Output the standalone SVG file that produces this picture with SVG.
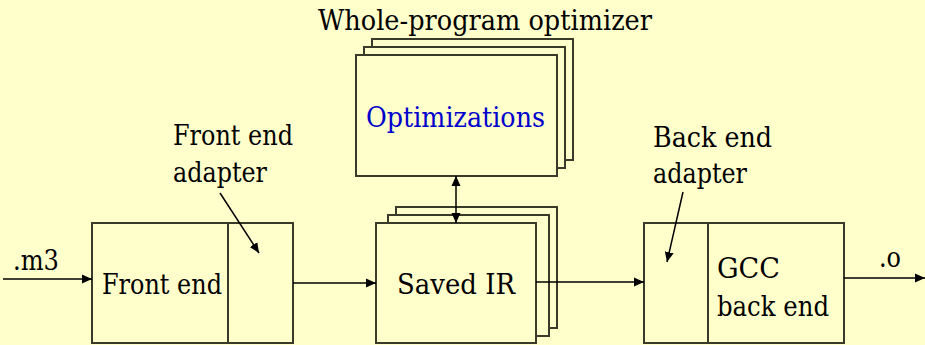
<svg xmlns="http://www.w3.org/2000/svg" width="925" height="345" viewBox="0 0 925 345">
<style>
.bx{fill:#FFFFCC;stroke:#3a3a2a;stroke-width:2}
.ln{fill:none;stroke:#000;stroke-width:1.5}
.t{font-family:'DejaVu Serif', serif;font-size:27px;fill:#000}
.blue{fill:#0000CC}
</style>
<defs>
<marker id="ah" viewBox="0 0 10 10" refX="10" refY="5" markerWidth="10" markerHeight="10" markerUnits="userSpaceOnUse" orient="auto-start-reverse">
<path d="M0,0.5 L10,5 L0,9.5 Z" fill="#000"/>
</marker>
</defs>
<rect width="925" height="345" fill="#FFFFCC"/>
<text class="t" x="318" y="30" textLength="334" lengthAdjust="spacingAndGlyphs">Whole-program optimizer</text>
<g id="optimizer">
<rect class="bx" x="372" y="39" width="201" height="121"/>
<rect class="bx" x="364" y="47" width="201" height="121"/>
<rect class="bx" x="356" y="55" width="201" height="121"/>
<text class="t blue" x="366" y="127" textLength="179" lengthAdjust="spacingAndGlyphs">Optimizations</text>
</g>
<g id="savedir">
<rect class="bx" x="396" y="207" width="161" height="121"/>
<rect class="bx" x="388" y="215" width="161" height="121"/>
<rect class="bx" x="376" y="223" width="160" height="120"/>
<text class="t" x="397" y="294" textLength="118" lengthAdjust="spacingAndGlyphs">Saved IR</text>
</g>
<g id="frontend">
<rect class="bx" x="92" y="223" width="201" height="120"/>
<line x1="228" y1="223" x2="228" y2="343" stroke="#3a3a2a" stroke-width="2"/>
<text class="t" x="102" y="294" textLength="120" lengthAdjust="spacingAndGlyphs">Front end</text>
</g>
<g id="backend">
<rect class="bx" x="644" y="223" width="200" height="120"/>
<line x1="708" y1="223" x2="708" y2="343" stroke="#3a3a2a" stroke-width="2"/>
<text class="t" x="717" y="278" textLength="63" lengthAdjust="spacingAndGlyphs">GCC</text>
<text class="t" x="717" y="316" textLength="112" lengthAdjust="spacingAndGlyphs">back end</text>
</g>
<g id="labels">
<text class="t" x="173" y="145" textLength="120" lengthAdjust="spacingAndGlyphs">Front end</text>
<text class="t" x="173" y="182" textLength="94" lengthAdjust="spacingAndGlyphs">adapter</text>
<text class="t" x="653" y="147" textLength="119" lengthAdjust="spacingAndGlyphs">Back end</text>
<text class="t" x="653" y="183" textLength="94" lengthAdjust="spacingAndGlyphs">adapter</text>
<text class="t" x="13" y="270" textLength="46" lengthAdjust="spacingAndGlyphs">.m3</text>
<text class="t" x="879" y="267" textLength="22" lengthAdjust="spacingAndGlyphs">.o</text>
</g>
<g id="connectors">
<line class="ln" x1="3" y1="279" x2="92" y2="279" marker-end="url(#ah)"/>
<line class="ln" x1="293" y1="283" x2="376" y2="283" marker-end="url(#ah)"/>
<line class="ln" x1="536" y1="282" x2="644" y2="282" marker-end="url(#ah)"/>
<line class="ln" x1="844" y1="278" x2="925" y2="278" marker-end="url(#ah)"/>
<line class="ln" x1="456" y1="176" x2="456" y2="223" marker-start="url(#ah)" marker-end="url(#ah)"/>
<line class="ln" x1="220" y1="193" x2="259" y2="253" marker-end="url(#ah)"/>
<line class="ln" x1="683" y1="192" x2="667" y2="262" marker-end="url(#ah)"/>
</g>
</svg>
